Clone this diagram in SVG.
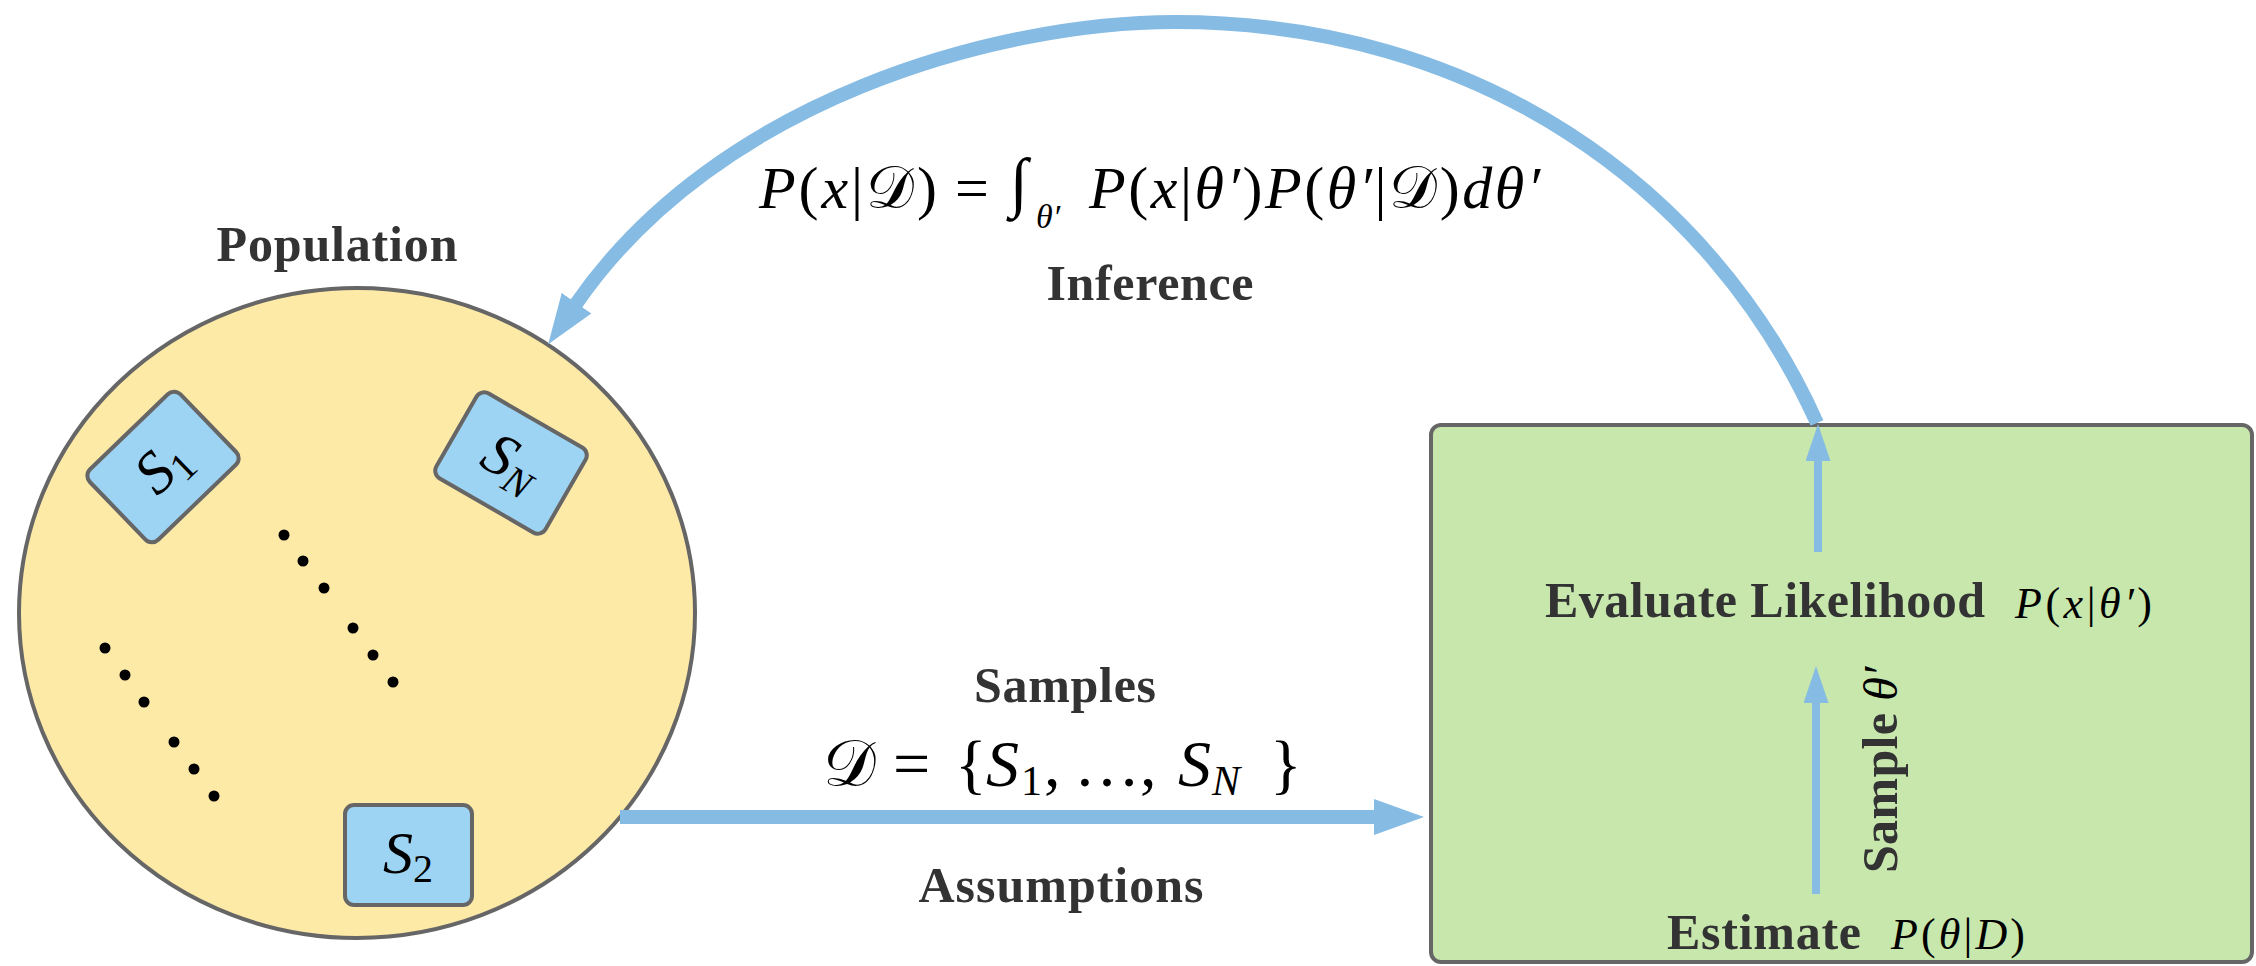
<svg xmlns="http://www.w3.org/2000/svg" width="2256" height="966" viewBox="0 0 2256 966">
<style>
.lbl{font-family:"Liberation Serif","DejaVu Serif",serif;font-weight:bold;font-size:50px;fill:#333}
.m{font-family:"Liberation Serif","DejaVu Serif",serif;font-style:italic;fill:#000}
.up{font-style:normal}
.cal{font-family:"DejaVu Serif","DejaVu Sans","Liberation Serif",serif;font-style:normal}
.box{fill:#9dd3f3;stroke:#666;stroke-width:4}
.conn{fill:none;stroke:#86bbe3}
.dot{fill:#000}
</style>
<defs>
<marker id="ahL" viewBox="0 0 50 36" refX="1" refY="18" markerWidth="50" markerHeight="36" markerUnits="userSpaceOnUse" orient="auto"><path d="M0,0 L50,18 L0,36 z" fill="#86bbe3"/></marker>
<marker id="ahS" viewBox="0 0 37 25" refX="1" refY="12.5" markerWidth="37" markerHeight="25" markerUnits="userSpaceOnUse" orient="auto"><path d="M0,0 L37,12.5 L0,25 z" fill="#86bbe3"/></marker>
</defs>
<rect width="2256" height="966" fill="#fff"/>

<g id="population">
<ellipse cx="357" cy="613" rx="338" ry="325" fill="#feeaa7" stroke="#666" stroke-width="4"/>
<text class="lbl" x="337" y="261" text-anchor="middle" textLength="241">Population</text>
<g class="dot">
<circle cx="105" cy="648" r="5.5"/><circle cx="125" cy="675" r="5.5"/><circle cx="144" cy="702" r="5.5"/>
<circle cx="174" cy="742" r="5.5"/><circle cx="194" cy="769" r="5.5"/><circle cx="214" cy="796" r="5.5"/>
<circle cx="284" cy="535" r="5.5"/><circle cx="303" cy="561" r="5.5"/><circle cx="324" cy="588" r="5.5"/>
<circle cx="353" cy="628" r="5.5"/><circle cx="373" cy="655" r="5.5"/><circle cx="393" cy="682" r="5.5"/>
</g>
</g>

<g id="s1" transform="translate(163,467) rotate(-44)">
<rect class="box" x="-63" y="-49" width="126" height="98" rx="9"/>
<text class="m" x="0" y="18" text-anchor="middle" font-size="60">S<tspan class="up" font-size="40" dy="9">1</tspan></text>
</g>
<g id="sN" transform="translate(511,463) rotate(30)">
<rect class="box" x="-63" y="-49" width="126" height="98" rx="9"/>
<text class="m" x="0" y="18" text-anchor="middle" font-size="60">S<tspan font-size="40" dy="9">N</tspan></text>
</g>
<g id="s2">
<rect class="box" x="345" y="805" width="127" height="100" rx="9"/>
<text class="m" x="408" y="873" text-anchor="middle" font-size="60">S<tspan class="up" font-size="40" dy="9">2</tspan></text>
</g>

<g id="model">
<rect x="1431" y="425" width="821" height="537" rx="10" fill="#c7e7ad" stroke="#666" stroke-width="4"/>
<text class="lbl" x="1545" y="617" textLength="440">Evaluate Likelihood</text>
<text class="m" x="2015" y="618" font-size="44" textLength="137">P<tspan class="up">(</tspan>x<tspan class="up">|</tspan>θ′<tspan class="up">)</tspan></text>
<text class="lbl" x="1667" y="949" textLength="194">Estimate</text>
<text class="m" x="1891" y="949" font-size="44" textLength="134">P<tspan class="up">(</tspan>θ<tspan class="up">|</tspan>D<tspan class="up">)</tspan></text>
<text transform="translate(1897,873) rotate(-90)"><tspan class="lbl" textLength="160">Sample</tspan><tspan class="m" font-size="48" dx="12">θ′</tspan></text>
</g>

<g id="labels">
<text class="lbl" x="1150" y="300" text-anchor="middle" textLength="207">Inference</text>
<text class="lbl" x="1065" y="702" text-anchor="middle" textLength="182">Samples</text>
<text class="lbl" x="1061" y="902" text-anchor="middle" textLength="285">Assumptions</text>
<text class="m" x="759" y="208" font-size="60" textLength="178">P<tspan class="up">(</tspan>x<tspan class="up">|</tspan><tspan class="cal">𝒟</tspan><tspan class="up">)</tspan></text>
<text class="m up" x="955" y="208" font-size="60">=</text>
<text class="m up" x="1010" y="204" font-size="66">∫</text>
<text class="m" x="1036" y="228" font-size="34">θ′</text>
<text class="m" x="1089" y="208" font-size="60" textLength="451">P<tspan class="up">(</tspan>x<tspan class="up">|</tspan>θ′<tspan class="up">)</tspan>P<tspan class="up">(</tspan>θ′<tspan class="up">|</tspan><tspan class="cal">𝒟</tspan><tspan class="up">)</tspan>dθ′</text>
<text class="m" y="786" font-size="66"><tspan class="cal" x="823">𝒟</tspan><tspan class="up" x="893">=</tspan><tspan class="up" x="955">{</tspan><tspan x="986">S</tspan><tspan class="up" dx="2" dy="9" font-size="42">1</tspan><tspan class="up" dx="2" dy="-9">,</tspan><tspan class="up" x="1074">…</tspan><tspan class="up" x="1140">,</tspan><tspan x="1178">S</tspan><tspan dx="1" dy="9" font-size="42">N</tspan><tspan class="up" x="1270" dy="-9">}</tspan></text>
</g>

<g id="connectors">
<path class="conn" stroke-width="14" d="M1817,423 C1710,185 1475,22 1175,22 C1000,22 718,98 576,304" marker-end="url(#ahL)"/>
<path class="conn" stroke-width="14" d="M620,817 H1375" marker-end="url(#ahL)"/>
<path class="conn" stroke-width="8" d="M1818,552 V460" marker-end="url(#ahS)"/>
<path class="conn" stroke-width="8" d="M1816,894 V702" marker-end="url(#ahS)"/>
</g>
</svg>
